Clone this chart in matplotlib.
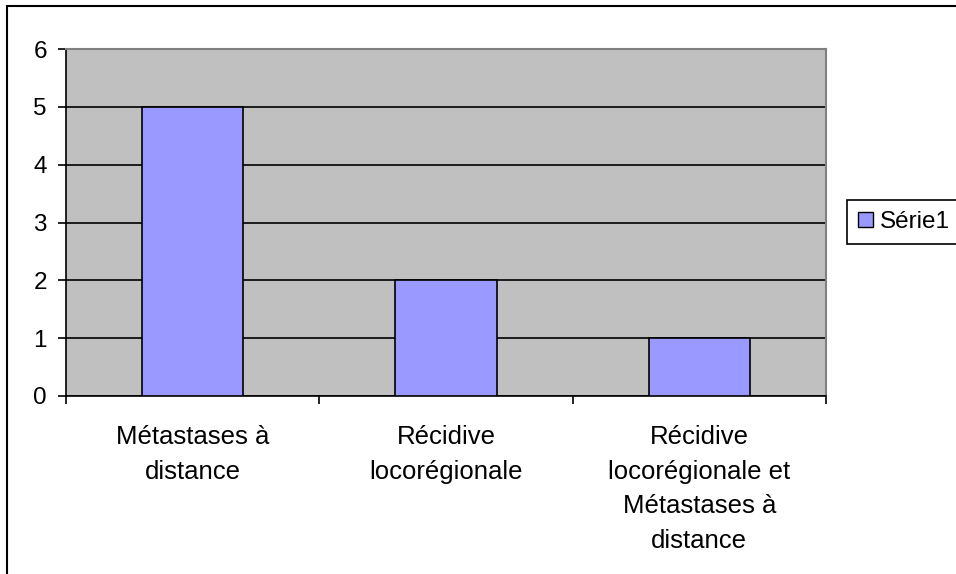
import matplotlib
matplotlib.use('Agg')
import matplotlib.pyplot as plt
from matplotlib.patches import Rectangle, Patch
import numpy as np

categories = ['Métastases à\ndistance',
              'Récidive\nlocorégionale',
              'Récidive\nlocorégionale et\nMétastases à\ndistance']
values = [5, 2, 1]
series_name = 'Série1'
yticks = [0, 1, 2, 3, 4, 5, 6]

plt.rcParams['font.family'] = ['Liberation Sans', 'DejaVu Sans']

W, H = 956, 574
fig = plt.figure(figsize=(W / 100, H / 100), dpi=100)
ax = fig.add_axes([66 / W, 1 - 396 / H, (826 - 66) / W, (396 - 49) / H])

ax.set_facecolor('#C0C0C0')
x = np.arange(len(values))
ax.bar(x, values, width=0.4, color='#9999FF', edgecolor='black', linewidth=1.2, zorder=3)

ax.set_xlim(-0.5, len(values) - 0.5)
ax.set_ylim(0, 6)
ax.set_yticks(yticks)
ax.yaxis.grid(True, color='black', linewidth=1.2, zorder=1)
ax.set_axisbelow(True)

# ticks between the categories, labels centred under the bars
ax.set_xticks(np.arange(len(values) + 1) - 0.5)
ax.set_xticklabels([])
ax.set_xticks(x, minor=True)
ax.set_xticklabels(categories, minor=True, fontsize=18.5, linespacing=1.55, va='top')
ax.tick_params(axis='x', which='minor', length=0, pad=21)
ax.tick_params(axis='x', which='major', length=5.8, width=1.2, direction='out')
ax.tick_params(axis='y', length=5.8, width=1.2, direction='out', labelsize=17.5, pad=8)

for s in ['left', 'bottom']:
    ax.spines[s].set_color('black')
    ax.spines[s].set_linewidth(1.2)
for s in ['top', 'right']:
    ax.spines[s].set_color('#808080')
    ax.spines[s].set_linewidth(1.5)

handle = Patch(facecolor='#9999FF', edgecolor='black', linewidth=1)
leg = fig.legend([handle], [series_name], loc='center left',
                 bbox_to_anchor=(847 / W, 1 - 222 / H), fontsize=17.5,
                 fancybox=False, edgecolor='black', framealpha=1,
                 handlelength=0.6, handleheight=0.6, handletextpad=0.3,
                 borderpad=0.45, borderaxespad=0)
leg.get_frame().set_linewidth(1.2)

# outer chart border (right/bottom edges fall outside the image)
fig.add_artist(Rectangle((7 / W, -0.1), 1.2, 1 - 6 / H + 0.1, transform=fig.transFigure,
                         fill=False, edgecolor='black', linewidth=1.5, clip_on=False))

fig.savefig('out.png', dpi=100)
